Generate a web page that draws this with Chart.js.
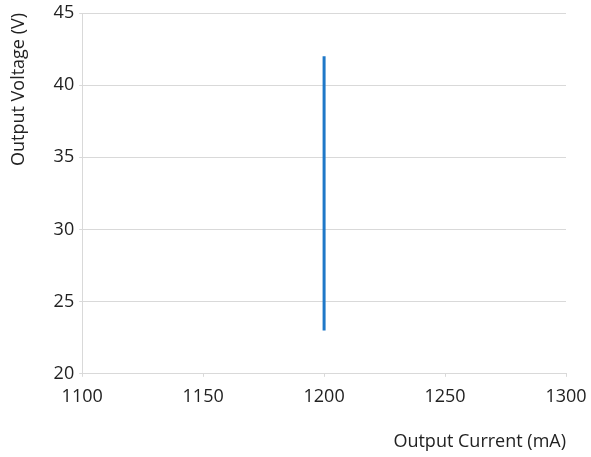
<!DOCTYPE html>
<html>
<head>
<meta charset="utf-8">
<script src="https://cdn.jsdelivr.net/npm/chart.js@4"></script>
<style>
  html, body { margin: 0; padding: 0; background: #fff; }
  #wrap { width: 591px; height: 457px; }
</style>
</head>
<body>
<div id="wrap"><canvas id="chart"></canvas></div>
<script>
const currentMa = [1200, 1200];
const voltageV = [23, 42];
const xTicks = [1100, 1150, 1200, 1250, 1300];
const yTicks = [20, 25, 30, 35, 40, 45];

const points = currentMa.map((x, i) => ({ x: x, y: voltageV[i] }));

const ctx = document.getElementById('chart').getContext('2d');
const chart = new Chart(ctx, {
    type: 'scatter',
    data: {
        datasets: [{
            data: points,
            showLine: true,
            borderColor: '#1f78c8',
            backgroundColor: '#1f78c8',
            borderWidth: 3,
            pointRadius: 0,
            pointHoverRadius: 0
        }]
    },
    options: {
        responsive: true,
        maintainAspectRatio: false,
        animation: false,
        layout: {
            padding: { left: 8, right: 25, top: 13, bottom: 4 }
        },
        plugins: {
            legend: { display: false },
            tooltip: { enabled: false }
        },
        scales: {
            x: {
                type: 'linear',
                min: xTicks[0],
                max: xTicks[xTicks.length - 1],
                afterBuildTicks: axis => { axis.ticks = xTicks.map(v => ({ value: v })); },
                // keep the plot edges where the layout padding puts them
                afterFit: axis => { axis.paddingLeft = 0; axis.paddingRight = 0; },
                grid: {
                    drawOnChartArea: false,
                    color: '#d9d9d9',
                    tickLength: 3
                },
                border: { color: '#d9d9d9' },
                ticks: {
                    color: '#222',
                    font: { family: 'Open Sans', size: 18 },
                    padding: 9,
                    maxRotation: 0,
                    callback: v => String(v)
                },
                title: {
                    display: true,
                    text: 'Output Current (mA)',
                    align: 'end',
                    color: '#222',
                    font: { family: 'Open Sans', size: 18 },
                    padding: { top: 15, bottom: 0 }
                }
            },
            y: {
                type: 'linear',
                min: yTicks[0],
                max: yTicks[yTicks.length - 1],
                afterBuildTicks: axis => { axis.ticks = yTicks.map(v => ({ value: v })); },
                afterFit: axis => { axis.paddingTop = 0; axis.paddingBottom = 0; },
                grid: {
                    color: '#d9d9d9',
                    tickLength: 3
                },
                border: { color: '#d9d9d9' },
                ticks: {
                    color: '#222',
                    font: { family: 'Open Sans', size: 18 },
                    padding: 5,
                    callback: v => String(v)
                },
                title: {
                    display: true,
                    text: 'Output Voltage (V)',
                    align: 'end',
                    color: '#222',
                    font: { family: 'Open Sans', size: 18 },
                    padding: { top: 0, bottom: 19 }
                }
            }
        }
    }
});
</script>
</body>
</html>
